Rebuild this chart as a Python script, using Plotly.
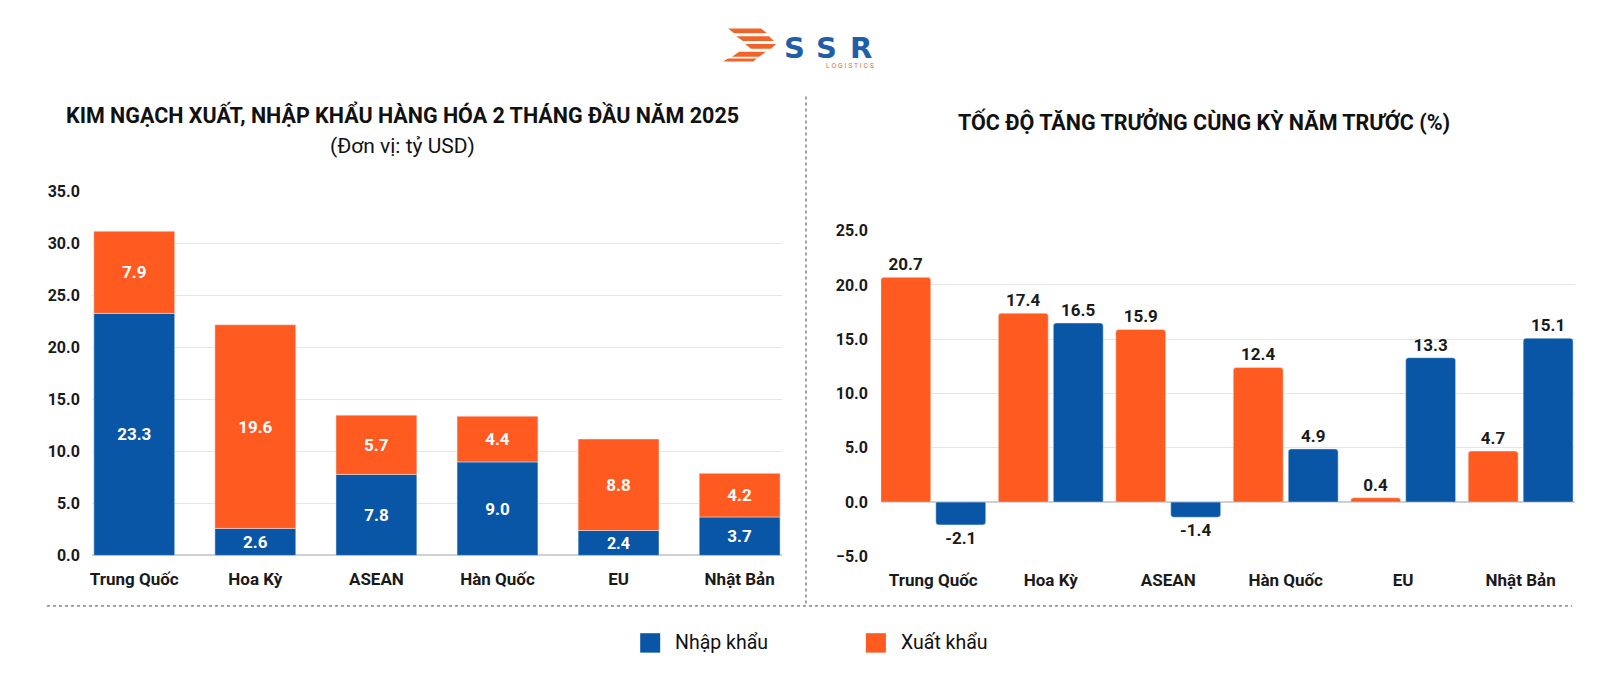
import plotly.graph_objects as go

# ---------------- data ----------------
countries = ["Trung Quốc", "Hoa Kỳ", "ASEAN", "Hàn Quốc", "EU", "Nhật Bản"]
series_names = ["Nhập khẩu", "Xuất khẩu"]

# left chart: turnover (billion USD)
import_value = [23.3, 2.6, 7.8, 9.0, 2.4, 3.7]
export_value = [7.9, 19.6, 5.7, 4.4, 8.8, 4.2]

# right chart: growth vs same period last year (%)
export_growth = [20.7, 17.4, 15.9, 12.4, 0.4, 4.7]
import_growth = [-2.1, 16.5, -1.4, 4.9, 13.3, 15.1]

left_ticks = [0, 5, 10, 15, 20, 25, 30, 35]
right_ticks = [-5, 0, 5, 10, 15, 20, 25]

title_left = "KIM NGẠCH XUẤT, NHẬP KHẨU HÀNG HÓA 2 THÁNG ĐẦU NĂM 2025"
subtitle_left = "(Đơn vị: tỷ USD)"
title_right = "TỐC ĐỘ TĂNG TRƯỞNG CÙNG KỲ NĂM TRƯỚC (%)"

# ---------------- style ----------------
BLUE = "#0A56A6"
ORANGE = "#FF5A1F"
FONT = "Roboto"
DARK = "#1a1a1a"
W, H = 1600, 685


def px(x):
    return x / W


def py(y):
    return 1 - y / H


fig = go.Figure()

label_in = dict(family=FONT, size=17, color="white", weight=700)
label_out = dict(family=FONT, size=17, color=DARK, weight=700)

# left stacked bars (export stacked on top of import via base)
fig.add_trace(go.Bar(
    x=countries, y=import_value, name=series_names[0], marker_color=BLUE,
    texttemplate="%{y:.1f}", textposition="inside", insidetextanchor="middle",
    textfont=label_in, xaxis="x", yaxis="y", showlegend=False,
    width=0.668, offset=-0.334))
fig.add_trace(go.Bar(
    x=countries, y=export_value, base=import_value, name=series_names[1],
    marker_color=ORANGE,
    texttemplate="%{y:.1f}", textposition="inside", insidetextanchor="middle",
    textfont=label_in, xaxis="x", yaxis="y", showlegend=False,
    width=0.668, offset=-0.334))

# right grouped bars (orange first)
fig.add_trace(go.Bar(
    x=countries, y=export_growth, name=series_names[1], marker_color=ORANGE,
    marker_cornerradius=3, width=0.425, offset=-0.4465,
    texttemplate="%{y:.1f}", textposition="outside", cliponaxis=False,
    textfont=label_out, xaxis="x2", yaxis="y2", showlegend=False))
fig.add_trace(go.Bar(
    x=countries, y=import_growth, name=series_names[0], marker_color=BLUE,
    marker_cornerradius=3, width=0.425, offset=0.0215,
    texttemplate="%{y:.1f}", textposition="outside", cliponaxis=False,
    textfont=label_out, xaxis="x2", yaxis="y2", showlegend=False))

xtickfont = dict(family=FONT, size=17, color=DARK, weight=700)
ytickfont = dict(family=FONT, size=16, color=DARK, weight=700)
grid = "#e6e6e6"

fig.update_layout(
    width=W, height=H,
    margin=dict(l=0, r=0, t=0, b=0),
    paper_bgcolor="white", plot_bgcolor="white",
    barmode="overlay",
    font=dict(family=FONT, color=DARK),
    xaxis=dict(domain=[px(90), px(781)], anchor="y", range=[-0.35, 5.35],
               tickfont=xtickfont, showline=False, ticks="", ticklabelstandoff=12),
    yaxis=dict(domain=[py(562), py(188)], anchor="x", range=[0, 35],
               tickvals=left_ticks, tickformat=".1f", tickfont=ytickfont,
               gridcolor=grid, zeroline=True, zerolinecolor="#d0d0d0",
               ticklabelstandoff=11),
    xaxis2=dict(domain=[px(880), px(1575)], anchor="y2", range=[-0.446, 5.463],
                tickfont=xtickfont, showline=False, ticks="", ticklabelstandoff=12),
    yaxis2=dict(domain=[py(563), py(228)], anchor="x2", range=[-5, 25],
                tickvals=right_ticks, tickformat=".1f", tickfont=ytickfont,
                gridcolor=grid, zeroline=True, zerolinecolor="#cfcfcf",
                ticklabelstandoff=12),
)

shapes = []
annotations = []


def note(x, y, text, font, xanchor="center", yanchor="middle"):
    annotations.append(dict(x=px(x), y=py(y), xref="paper", yref="paper",
                            xanchor=xanchor, yanchor=yanchor, text=text,
                            showarrow=False, font=font))


# titles
note(401, 108, title_left, dict(family=FONT, size=21.5, color="#111", weight=700))
note(401, 141, subtitle_left, dict(family=FONT, size=21, color="#111"))
note(1204, 115, title_right, dict(family=FONT, size=21.5, color="#111", weight=700))

# dotted separators
shapes.append(dict(type="line", xref="paper", yref="paper",
                   x0=px(805), x1=px(805), y0=py(90), y1=py(614),
                   line=dict(color="#444", width=1, dash="dot")))
shapes.append(dict(type="line", xref="paper", yref="paper",
                   x0=px(45), x1=px(1572), y0=py(614), y1=py(614),
                   line=dict(color="#444", width=1, dash="dot")))

# legend (manual squares)
legend_items = [(series_names[0], BLUE, 639), (series_names[1], ORANGE, 865)]
for name, col, x0 in legend_items:
    shapes.append(dict(type="rect", xref="paper", yref="paper",
                       x0=px(x0), x1=px(x0 + 20), y0=py(662), y1=py(642),
                       fillcolor=col, line=dict(width=0)))
    note(x0 + 33, 652, name, dict(family=FONT, size=19.5, color="#111"), xanchor="left")

# logo: orange wing stripes + SSR text
wing = [
    (727, 20, 760, 20, 766, 25, 733, 25),
    (735, 28, 768, 28, 773, 33, 742, 33),
    (744, 36, 775, 36, 770, 41, 750, 41),
    (738, 44, 765, 44, 758, 49, 731, 49),
    (727, 51, 756, 51, 752, 54, 722, 54),
]
for (ax, ay, bx, by, cx, cy, dx, dy) in wing:
    path = "M {},{} L {},{} L {},{} L {},{} Z".format(
        px(ax), py(ay), px(bx), py(by), px(cx), py(cy), px(dx), py(dy))
    shapes.append(dict(type="path", xref="paper", yref="paper", path=path,
                       fillcolor="#F0642A", line=dict(width=0)))
logo_font = dict(family="DejaVu Sans", size=29, color="#1F5FA8", weight=700)
for letter, cx in (("S", 793), ("S", 826), ("R", 860)):
    note(cx, 40, letter, logo_font)
note(875, 59, "L O G I S T I C S", dict(family=FONT, size=7, color="#E8703A"),
     xanchor="right")

fig.update_layout(shapes=shapes, annotations=annotations)

fig.write_html("out.html")
